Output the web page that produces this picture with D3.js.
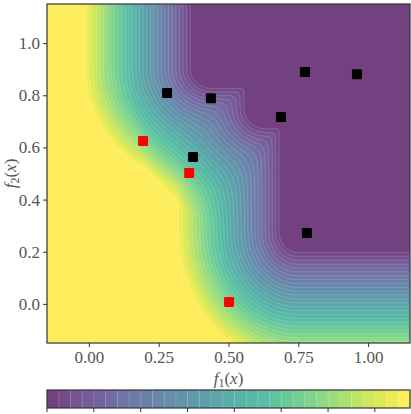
<!DOCTYPE html>
<html><head><meta charset="utf-8">
<script src="https://cdn.jsdelivr.net/npm/d3@7"></script>
<style>html,body{margin:0;padding:0;background:#fff;}svg{display:block;}</style>
</head><body>
<svg id="chart" width="411" height="414"></svg>
<script>
// ---- data ----
const f1Ticks = [0, 0.25, 0.5, 0.75, 1.0];
const f2Ticks = [0, 0.2, 0.4, 0.6, 0.8, 1.0];
const observedF1 = [0.280, 0.437, 0.688, 0.774, 0.960, 0.373, 0.781];
const observedF2 = [0.809, 0.789, 0.717, 0.889, 0.881, 0.563, 0.272];
const candidateF1 = [0.194, 0.359, 0.502];
const candidateF2 = [0.625, 0.502, 0.007];
// corners of the flat (lowest) region of the surface
const cornerF1 = [0.441, 0.634, 0.748];
const cornerF2 = [0.904, 0.750, 0.277];
const cornerRamp = [0.40, 0.42, 0.46];   // distance over which the surface rises near each corner
const cornerAspect = [1.0, 1.0, 1.2];    // horizontal stretch of the rise near each corner
const plateauWidth = 0.065;
const levelValues = d3.range(0, 32).map(k => +(k * 0.025).toFixed(3)); // 0 .. 0.775, 31 bands
const colorbarTicks = [0, 0.1, 0.2, 0.3, 0.4, 0.5, 0.6, 0.7];

// ---- layout ----
const svg = d3.select("#chart");
const L = 47, R = 410, T = 4, B = 343;
const x = d3.scaleLinear().domain([-0.15, 1.15]).range([L, R]);
const y = d3.scaleLinear().domain([-0.15, 1.15]).range([B, T]);
const vmax = levelValues[levelValues.length - 1];
const nBands = levelValues.length - 1;
const alpha = 0.75;
function bandColor(k) {
  const c = d3.rgb(d3.interpolateViridis(k / (nBands - 1)));
  return d3.rgb(255 - (255 - c.r) * alpha, 255 - (255 - c.g) * alpha, 255 - (255 - c.b) * alpha).toString();
}

function field(px, py) {
  const p = 4;
  let s = 1;
  for (let i = 0; i < cornerF1.length; i++) {
    const dx = Math.max(cornerF1[i] - px, 0) * cornerAspect[i], dy = Math.max(cornerF2[i] - py, 0);
    const d = Math.sqrt(dx * dx + dy * dy);
    const h = Math.min(Math.max((d - plateauWidth) / cornerRamp[i], 0), 1);
    if (h <= 0) return 0;
    s += Math.pow(h, -p) - 1;
  }
  return vmax * Math.pow(s, -1 / p);
}

const nx = R - L, ny = B - T;
const values = new Float64Array(nx * ny);
for (let j = 0; j < ny; j++) for (let i = 0; i < nx; i++) {
  values[j * nx + i] = field(x.invert(L + i + 0.5), y.invert(T + j + 0.5));
}

svg.append("defs").append("clipPath").attr("id", "clip")
  .append("rect").attr("x", L).attr("y", T).attr("width", R - L).attr("height", B - T);

const g = svg.append("g").attr("clip-path", "url(#clip)");
g.append("rect").attr("x", L).attr("y", T).attr("width", R - L).attr("height", B - T).attr("fill", bandColor(0));
const thresholds = levelValues.slice(1, -1);
const contours = d3.contours().size([nx, ny]).thresholds(thresholds)(values);
const path = d3.geoPath(d3.geoIdentity().translate([L, T]));
g.selectAll("path.band").data(contours).join("path")
  .attr("class", "band")
  .attr("d", path)
  .attr("fill", (d, i) => bandColor(i + 1))
  .attr("stroke", "rgba(255,255,255,0.28)")
  .attr("stroke-width", 0.6);

// markers
const ms = 10;
svg.append("g").selectAll("rect").data(observedF1.map((v, i) => [v, observedF2[i]])).join("rect")
  .attr("x", d => x(d[0]) - ms / 2).attr("y", d => y(d[1]) - ms / 2)
  .attr("width", ms).attr("height", ms).attr("rx", 1.2).attr("fill", "#000");
svg.append("g").selectAll("rect").data(candidateF1.map((v, i) => [v, candidateF2[i]])).join("rect")
  .attr("x", d => x(d[0]) - ms / 2).attr("y", d => y(d[1]) - ms / 2)
  .attr("width", ms).attr("height", ms).attr("rx", 1.2).attr("fill", "#ff0000");

// frame
svg.append("rect").attr("x", L).attr("y", T).attr("width", R - L).attr("height", B - T)
  .attr("fill", "none").attr("stroke", "#333").attr("stroke-width", 1.2);

const font = "Liberation Serif, DejaVu Serif, serif";
const textColor = "#555";
const xa = svg.append("g").attr("transform", `translate(0,${B})`)
  .call(d3.axisBottom(x).tickValues(f1Ticks).tickFormat(d3.format(".2f")).tickSize(4).tickSizeOuter(0).tickPadding(4));
const ya = svg.append("g").attr("transform", `translate(${L},0)`)
  .call(d3.axisLeft(y).tickValues(f2Ticks).tickFormat(d3.format(".1f")).tickSize(4).tickSizeOuter(0).tickPadding(3));
[xa, ya].forEach(a => {
  a.select(".domain").remove();
  a.selectAll("line").attr("stroke", "#333");
  a.selectAll("text").attr("font-family", font).attr("font-size", 17).attr("fill", textColor);
});

const xl = svg.append("text").attr("x", x(0.5)).attr("y", 384).attr("text-anchor", "middle")
  .attr("font-family", font).attr("font-size", 17).attr("fill", textColor);
xl.append("tspan").attr("font-style", "italic").text("f");
xl.append("tspan").attr("font-size", 12).attr("dy", 3).text("1");
xl.append("tspan").attr("dy", -3).text("(");
xl.append("tspan").attr("font-style", "italic").text("x");
xl.append("tspan").text(")");

const yl = svg.append("text").attr("transform", `translate(16,${y(0.5)}) rotate(-90)`).attr("text-anchor", "middle")
  .attr("font-family", font).attr("font-size", 17).attr("fill", textColor);
yl.append("tspan").attr("font-style", "italic").text("f");
yl.append("tspan").attr("font-size", 12).attr("dy", 3).text("2");
yl.append("tspan").attr("dy", -3).text("(");
yl.append("tspan").attr("font-style", "italic").text("x");
yl.append("tspan").text(")");

// colorbar
const cbT = 390, cbB = 408;
const cx = d3.scaleLinear().domain([levelValues[0], vmax]).range([L, R]);
const cb = svg.append("g");
cb.selectAll("rect").data(d3.range(nBands)).join("rect")
  .attr("x", k => cx(levelValues[k])).attr("y", cbT)
  .attr("width", k => cx(levelValues[k + 1]) - cx(levelValues[k]) + 0.3).attr("height", cbB - cbT)
  .attr("fill", k => bandColor(k));
cb.selectAll("line.sep").data(d3.range(1, nBands)).join("line").attr("class", "sep")
  .attr("x1", k => cx(levelValues[k])).attr("x2", k => cx(levelValues[k]))
  .attr("y1", cbT).attr("y2", cbB).attr("stroke", "rgba(255,255,255,0.25)").attr("stroke-width", 0.7);
cb.append("rect").attr("x", L).attr("y", cbT).attr("width", R - L).attr("height", cbB - cbT)
  .attr("fill", "none").attr("stroke", "#333").attr("stroke-width", 1.2);
cb.selectAll("line.tick").data(colorbarTicks).join("line").attr("class", "tick")
  .attr("x1", d => cx(d)).attr("x2", d => cx(d)).attr("y1", cbB).attr("y2", cbB + 4)
  .attr("stroke", "#333");
</script>
</body></html>
